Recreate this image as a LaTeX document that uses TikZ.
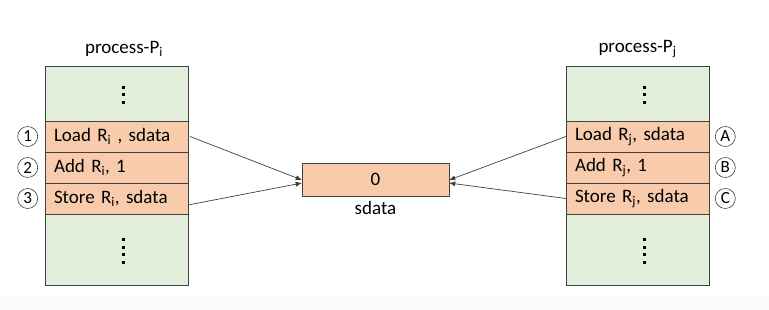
\documentclass[tikz,border=0pt]{standalone}
\usepackage{fontspec}
\setmainfont{Carlito}
\usepackage{xcolor}
\usetikzlibrary{arrows.meta,positioning}
\definecolor{stackgreen}{HTML}{E2EFDA}
\definecolor{stackorange}{HTML}{F8CBAD}
\definecolor{edgegray}{HTML}{404040}

\begin{document}
\begin{tikzpicture}[x=1pt, y=-1pt,
  node distance=0pt,
  cell/.style={draw=edgegray, line width=0.8pt, inner sep=0pt, outer sep=0pt, minimum width=143pt},
  filler/.style={cell, fill=stackgreen},
  instr/.style={cell, fill=stackorange, minimum height=31pt, text width=125pt, inner xsep=9pt, align=left, font=\fontsize{19}{22}\selectfont},
  circlab/.style={draw=edgegray, circle, line width=0.6pt, inner sep=0pt, minimum size=20pt, font=\fontsize{17}{19}\selectfont},
  title/.style={font=\fontsize{19}{22}\selectfont},
  arr/.style={-{Latex[length=2.2mm, width=1.8mm]}, line width=0.7pt, draw=edgegray}]
\useasboundingbox (0,0) rectangle (769,310);
\fill[gray!4] (0,297) rectangle (769,310);
% process P_i
\node[filler, minimum height=55pt] (topi) at (116.5,93.5) {};
\node[instr, below=of topi] (loadi) {Load R\textsubscript{i} , sdata};
\node[instr, below=of loadi] (addi) {Add R\textsubscript{i}, 1};
\node[instr, below=of addi] (storei) {Store R\textsubscript{i}, sdata};
\node[filler, minimum height=71pt, below=of storei] (boti) {};
\node[title] (namei) at (124,49) {process-P\textsubscript{i}};
\node[circlab, left=7pt of loadi] (ci1) {1};
\node[circlab, left=7pt of addi] (ci2) {2};
\node[circlab, left=7pt of storei] (ci3) {3};
% process P_j
\node[filler, minimum height=55pt] (topj) at (637.5,93.5) {};
\node[instr, below=of topj] (loadj) {Load R\textsubscript{j}, sdata};
\node[instr, below=of loadj] (addj) {Add R\textsubscript{j}, 1};
\node[instr, below=of addj] (storej) {Store R\textsubscript{j}, sdata};
\node[filler, minimum height=71pt, below=of storej] (botj) {};
\node[title] (namej) at (637.5,49) {process-P\textsubscript{j}};
\node[circlab, right=6pt of loadj] (cjA) {A};
\node[circlab, right=6pt of addj] (cjB) {B};
\node[circlab, right=6pt of storej] (cjC) {C};
% vertical dots
\foreach \s in {topi, topj}
  \foreach \d in {-7.5,0,7.5}
    \fill ([xshift=5pt, yshift=\d pt]\s.center) rectangle +(3,3);
\foreach \s in {boti, botj}
  \foreach \d in {-11.5,-3.8,3.8,11.5}
    \fill ([xshift=5pt, yshift=\d pt]\s.center) rectangle +(3,3);
% shared variable
\node[cell, fill=stackorange, minimum width=147pt, minimum height=33pt, font=\fontsize{19}{22}\selectfont] (mem) at (375.5,179.5) {0};
\node[title, below=2pt of mem] (memname) {sdata};
\draw[arr] ([xshift=2pt]loadi.east) -- ([yshift=-0.5pt]mem.west);
\draw[arr] ([yshift=-6.5pt]storei.east) -- ([yshift=-3.5pt]mem.west);
\draw[arr] (loadj.west) -- ([yshift=-0.5pt]mem.east);
\draw[arr] (storej.west) -- ([yshift=-3.5pt]mem.east);
\end{tikzpicture}
\end{document}
